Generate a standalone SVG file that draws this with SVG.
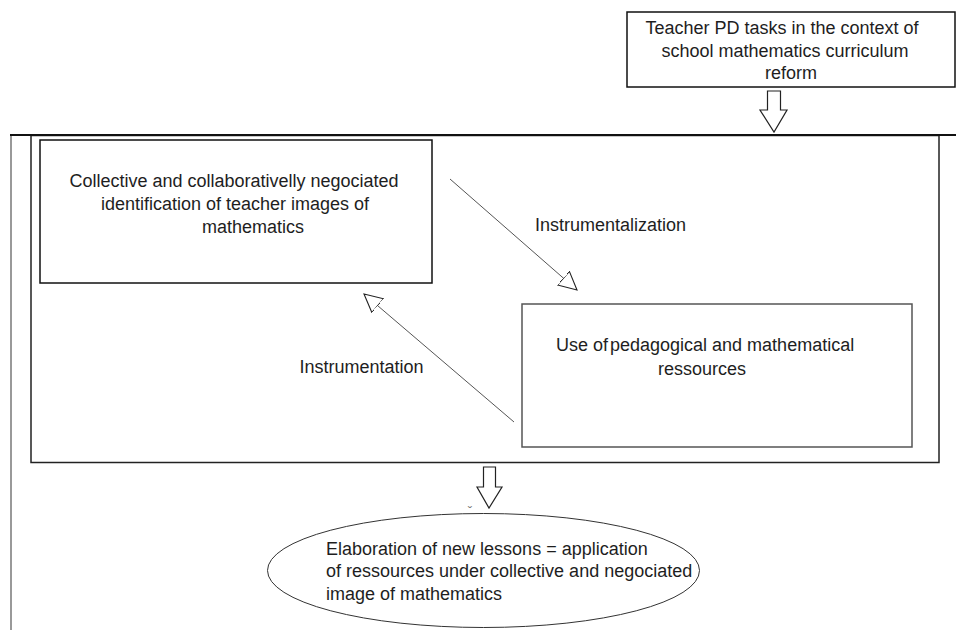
<svg xmlns="http://www.w3.org/2000/svg" width="956" height="630" viewBox="0 0 956 630">
<style>
  text { font-family: "Liberation Sans", Arial, sans-serif; font-size: 18px; fill: #1e1e1e; }
  .c { text-anchor: middle; }
  .box { fill: #fff; stroke: #111; stroke-width: 1.5; }
  .gbox { fill: #fff; stroke: #555; stroke-width: 1.5; }
  .conn { stroke: #555; stroke-width: 1; fill: none; }
  .block { fill: #fff; stroke: #222; stroke-width: 1.2; stroke-linejoin: miter; }
</style>
<defs>
  <marker id="open" markerUnits="userSpaceOnUse" markerWidth="22" markerHeight="22" refX="18" refY="9" orient="auto" viewBox="0 0 22 18">
    <path d="M0,0 L18,9 L0,18 Z" fill="#fff" stroke="#222" stroke-width="1.1"/>
  </marker>
</defs>
<rect width="956" height="630" fill="#fff"/>

<g id="frame">
  <line x1="11" y1="135" x2="11" y2="630" stroke="#777" stroke-width="1.5"/>
  <rect x="31" y="135.5" width="908" height="327" fill="none" stroke="#222" stroke-width="1.5"/>
  <line x1="10" y1="135" x2="956" y2="135" stroke="#111" stroke-width="2"/>
</g>

<g id="teacher-pd">
  <rect class="box" x="627" y="12" width="328" height="75"/>
  <text class="c" x="782" y="34">Teacher PD tasks in the context of</text>
  <text class="c" x="785" y="57">school mathematics curriculum</text>
  <text class="c" x="791" y="79">reform</text>
</g>

<g id="identification">
  <rect class="box" x="40" y="140" width="392" height="143"/>
  <text class="c" x="234" y="187">Collective and collaborativelly negociated</text>
  <text class="c" x="235" y="210">identification of teacher images of</text>
  <text class="c" x="253" y="233">mathematics</text>
</g>

<g id="resources">
  <rect class="gbox" x="522" y="304" width="390" height="143"/>
  <text y="351"><tspan x="556">Use of</tspan><tspan x="610">pedagogical and mathematical</tspan></text>
  <text class="c" x="702" y="375">ressources</text>
</g>

<g id="lessons">
  <ellipse cx="483.5" cy="570.5" rx="216" ry="57" fill="#fff" stroke="#333" stroke-width="1"/>
  <text x="326" y="555">Elaboration of new lessons = application</text>
  <text x="326" y="577">of ressources under collective and negociated</text>
  <text x="326" y="600">image of mathematics</text>
</g>

<g id="connectors">
  <path class="block" d="M767.5,91 H780.5 V110 H787 L774,132 L760,110 H767.5 Z"/>
  <path class="block" d="M483.5,467 H495.5 V487 H502 L489,508 L477,487 H483.5 Z"/>
  <line class="conn" x1="450" y1="179" x2="577" y2="290" marker-end="url(#open)"/>
  <text x="610.5" y="231" class="c">Instrumentalization</text>
  <line class="conn" x1="514" y1="422" x2="364" y2="294" marker-end="url(#open)"/>
  <text x="361.5" y="373" class="c">Instrumentation</text>
  <text x="470" y="516" class="c" style="font-size:13px;fill:#777">ˇ</text>
</g>
</svg>
